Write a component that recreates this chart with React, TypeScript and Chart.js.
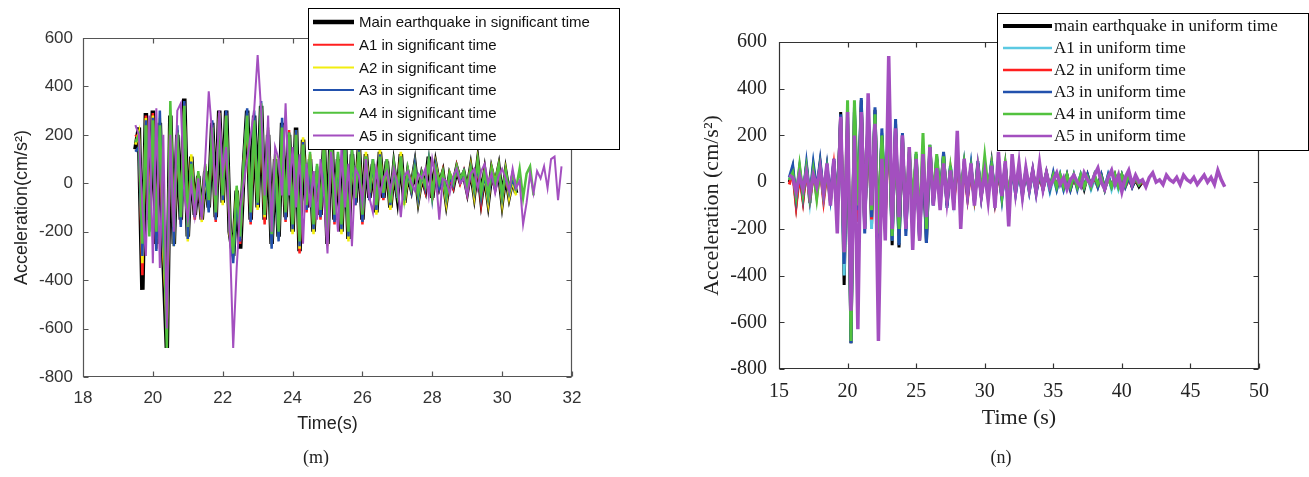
import React, { useEffect, useRef } from 'react';
import { Chart, registerables } from 'chart.js';
Chart.register(...registerables);

// ================= Panel (m): significant time =================
const M_T0 = 19.5;
const M_DT = 0.1;
const M_X_TICKS = { min: 18, max: 32, step: 2 };
const M_Y_TICKS = { min: -800, max: 600, step: 200 };
const M_LABELS = [
  'Main earthquake in significant time',
  'A1 in significant time',
  'A2 in significant time',
  'A3 in significant time',
  'A4 in significant time',
  'A5 in significant time',
];
const M_MAIN = [
  140, 230, -440, 290, -150, 300, -250, 250, -300, -680,
  280, -250, 200, -150, 350, -220, 110, -130, 30, -150,
  50, -100, 250, -140, 300, -80, 300, -200, -300, -30,
  -270, 60, 300, -150, 280, -100, 320, -150, 200, -250,
  100, -220, 250, -140, 200, -200, 230, -280, 180, -100,
  100, -200, 50, -130, 150, -250, 250, -150, 100, -200,
  180, -230, 120, -80, 150, -150, 120, -60, 80, -120,
  130, -60, 90, -100, 60, -50, 120, -80, 40, -20,
  70, -60, 30, -20, 110, -60, 70, -10, 40, -70,
  30, -10, 60, 10, 40, -30, 60, -40, 80, -60,
  40, -70, 50, -10, 60, -70, 40, -50, 20, -40,
];
const M_A1 = [
  200, 180, -380, 280, -120, 290, -270, 230, -260, -600,
  250, -230, 220, -170, 330, -200, 100, -150, 40, -130,
  70, -90, 230, -160, 280, -60, 290, -180, -280, -40,
  -250, 80, 280, -170, 260, -80, 300, -170, 220, -230,
  80, -200, 230, -160, 220, -180, 210, -290, 170, -120,
  120, -180, 40, -150, 160, -230, 230, -170, 110, -180,
  160, -210, 130, -90, 140, -170, 110, -70, 90, -100,
  120, -70, 100, -90, 70, -60, 110, -70, 50, -30,
  60, -50, 40, -30, 100, -70, 60, -20, 50, -60,
  20, -20, 70, 0, 50, -40, 50, -30, 70, -80,
  50, -60, 40, -20, 50, -60, 30, -40, 30, -30,
];
const M_A2 = [
  160, 210, -330, 270, -170, 280, -230, 270, -280, -560,
  260, -260, 190, -130, 320, -240, 120, -110, 20, -160,
  40, -110, 240, -130, 290, -90, 280, -210, -310, -20,
  -230, 50, 290, -140, 270, -110, 310, -140, 190, -260,
  110, -230, 240, -130, 190, -210, 220, -270, 190, -90,
  110, -210, 60, -120, 140, -260, 240, -140, 90, -210,
  170, -240, 110, -70, 160, -140, 130, -50, 70, -130,
  140, -50, 80, -110, 50, -40, 130, -90, 30, -10,
  80, -70, 20, -10, 100, -50, 80, 0, 30, -80,
  40, 0, 50, 20, 30, -20, 70, -50, 90, -50,
  30, -80, 60, 0, 70, -80, 50, -60, 10, -50,
];
const M_A3 = [
  130, 150, -300, 260, -200, 270, -280, 300, -240, -500,
  240, -260, 240, -180, 340, -230, 90, -140, 20, -140,
  60, -120, 260, -150, 280, -70, 300, -190, -330, -60,
  -240, 70, 310, -160, 300, -90, 340, -130, 210, -270,
  90, -240, 270, -150, 210, -190, 220, -260, 170, -110,
  90, -190, 70, -140, 140, -240, 260, -160, 120, -190,
  190, -220, 140, -90, 140, -160, 110, -70, 100, -110,
  120, -60, 100, -90, 70, -60, 110, -70, 50, -30,
  80, -60, 40, -20, 100, -60, 70, -20, 40, -60,
  30, -10, 60, 10, 50, -30, 60, -30, 80, -60,
  40, -60, 40, -20, 60, -60, 40, -40, 20, -30,
];
const M_A4 = [
  170, 200, -250, 240, -220, 260, -200, 240, -150, -680,
  340, -180, 210, -140, 320, -180, 80, -120, 50, -120,
  80, -70, 230, -120, 270, -50, 280, -170, -290, -10,
  -220, 90, 280, -120, 260, -80, 330, -130, 230, -210,
  120, -200, 230, -120, 210, -170, 200, -240, 160, -90,
  130, -170, 80, -110, 170, -220, 220, -130, 130, -170,
  170, -200, 140, -60, 130, -130, 110, -40, 100, -90,
  110, -40, 100, -80, 80, -40, 110, -60, 60, -20,
  60, -40, 40, -10, 90, -50, 60, 0, 50, -50,
  40, 0, 70, 20, 50, -20, 60, -20, 90, -40,
  50, -50, 60, 0, 70, -50, 50, -30, 40, -20,
  60, -60, 40, 70, -50,
];
const M_A5 = [
  240, 200, -100, -300, 280, -330, 310, -350, 200, -600,
  200, -200, 300, 330, -50, -150, 0, -130, 20, -150,
  100, 380, 200, -50, 300, 50, 150, -200, -680, -350,
  -100, 0, 100, 200, 300, 530, 300, -50, 280, -200,
  150, 100, -50, 330, -50, 150, -100, 120, -250, 80,
  -100, 50, -150, 100, -50, -290, 130, 0, -200, 150,
  -100, 80, -260, 60, 30, -80, 100, -60, -120, 60,
  -50, 20, 50, -30, 60, 0, -140, 30, 50, 0,
  -30, 40, 20, 60, -50, 100, 30, -150, 20, 10,
  -40, 30, 60, 0, 20, -50, 40, 60, -20, 50,
  80, 0, 40, -40, 30, 60, 20, -30, 60, -20,
  10, -170, -80, 40, -40, 50, 20, 70, -20, 100,
  110, -70, 70,
];

// ================= Panel (n): uniform time =================
const N_T0 = 15.75;
const N_DT = 0.25;
const N_X_TICKS = { min: 15, max: 50, step: 5 };
const N_Y_TICKS = { min: -800, max: 600, step: 200 };
const N_LABELS = [
  'main earthquake in uniform time',
  'A1 in uniform time',
  'A2 in uniform time',
  'A3 in uniform time',
  'A4 in uniform time',
  'A5 in uniform time',
];
const N_MAIN = [
  0, 60, -90, 50, -70, 70, -90, 60, -40, 80, -60, 60, -80, 90, -120, 300,
  -440, 250, -690, 300, -150, 350, -200, 300, -180, 310, -270, 200,
  -150, 300, -270, 250, -280, 200, -200, 120, -150, 110, -250, 100,
  -260, 150, -90, 100, -60, 120, -100, 60, -80, 90, -60, 70,
  -50, 60, -80, 80, -60, 50, -40, 80, -70, 50, -60, 70,
  -90, 60, -40, 50, -50, 40, -30, 50, -40, 30, -20, 40,
  -30, 30, -20, 20, -20, 30, -30, 20, -20, 20, -30, 30,
  -20, 20, -10, 30, -30, 20, -20, 30, -20, 30, -10, 20,
  -20, 10, -20, 0,
];
const N_A1 = [
  10, 50, -80, 40, -60, 60, -80, 70, -50, 70, -70, 50, -70, 80, -100, 280,
  -400, 260, -600, 280, -130, 330, -190, 280, -200, 290, -250, 210,
  -140, 280, -250, 230, -260, 180, -210, 110, -140, 120, -230, 110,
  -240, 140, -100, 90, -70, 110, -90, 70, -70, 80, -70, 60,
  -60, 70, -70, 70, -50, 60, -50, 70, -60, 40, -70, 60,
  -80, 50, -50, 40, -40, 50, -40, 40, -30, 40, -30, 30,
  -40, 20, -30, 30, -30, 20, -20, 30, -10, 30, -20, 20,
  -30, 10, -20, 20, -20, 30, -30, 20, -30, 20, -20, 30,
  -10, 20, -10, 10,
];
const N_A2 = [
  -10, 40, -100, 30, -80, 50, -70, 40, -60, 60, -80, 40, -60, 70, -90, 270,
  -300, 240, -560, 260, -170, 320, -180, 260, -160, 280, -230, 190,
  -170, 270, -200, 210, -230, 160, -190, 100, -130, 100, -200, 90,
  -220, 130, -80, 80, -80, 100, -80, 50, -90, 70, -50, 50,
  -70, 50, -70, 60, -50, 40, -50, 60, -80, 40, -50, 60,
  -70, 50, -30, 40, -40, 30, -20, 40, -30, 20, -30, 30,
  -20, 20, -10, 20, -10, 20, -20, 10, -20, 10, -20, 20,
  -10, 20, -20, 20, -20, 10, -10, 20, -10, 20, -20, 10,
  -10, 10, -10, 0,
];
const N_A3 = [
  20, 70, -70, 60, -60, 80, -60, 80, -30, 90, -50, 70, -60, 100, -100, 290,
  -350, 280, -690, 320, -120, 360, -220, 310, -150, 320, -260, 230,
  -130, 310, -250, 270, -270, 210, -230, 130, -160, 120, -240, 120,
  -260, 160, -100, 110, -70, 130, -110, 70, -70, 100, -50, 80,
  -60, 70, -90, 90, -60, 60, -50, 90, -70, 60, -70, 80,
  -100, 60, -50, 50, -60, 50, -40, 50, -50, 40, -30, 40,
  -30, 40, -30, 30, -30, 30, -30, 30, -30, 30, -20, 30,
  -20, 30, -20, 30, -30, 30, -20, 20, -20, 30, -20, 20,
  -20, 20, -10, 10,
];
const N_A4 = [
  10, 40, -60, 70, -50, 60, -60, 50, -70, 60, -60, 50, -90, 80, -100, 250,
  -300, 350, -680, 350, -100, 300, -170, 280, -120, 290, -220, 200,
  -100, 290, -230, 200, -200, 190, -170, 150, -100, 130, -190, 210,
  -200, 160, -70, 120, -50, 110, -80, 60, -60, 90, -40, 80,
  -40, 60, -60, 70, -40, 110, -30, 70, -50, 60, -60, 70,
  -60, 50, -30, 40, -40, 50, -30, 40, -30, 40, -20, 40,
  -20, 30, -20, 30, -20, 30, -20, 30, -20, 30, -20, 20,
  -20, 30, -10, 20, -30, 20, -20, 30, -20, 30, -10, 30,
  -10, 20, -10, 10,
];
const N_A5 = [
  30, 20, -40, 30, -30, 40, -50, 30, -20, 60, -50, 80, -100, 100, -220, 280,
  -300, 300, -550, 200, -630, 300, -200, 380, -100, 250, -680, 100,
  -250, 540, -200, 230, -150, 200, -200, 150, -290, 100, -250, 120,
  -150, 150, -100, 60, -120, 80, -80, 50, -120, 220, -200, 100,
  -50, 80, -100, 60, -60, 40, -80, 70, -110, 130, -60, 90,
  -190, 120, -40, 80, -60, 60, -30, 50, -40, 80, -30, 40,
  -20, 10, 40, -10, 20, -30, 10, 30, 0, -20, 40, 10,
  -10, 30, 60, 0, -30, 20, 50, -10, 30, -40, 20, 50,
  -10, 30, 0, 10, -20, 20, 40, 0, 10, -10, 30, 10,
  0, 20, -10, 30, 10, 0, 20, -10, 10, 30, 0, 20,
  -10, 50, 10, -20,
];

// ================= Chart construction =================
type SeriesStyle = { color: string; width: number; legendWidth: number };

const toPoints = (t0: number, dt: number, vals: number[]) =>
  vals.map((v, i) => ({ x: +(t0 + i * dt).toFixed(3), y: v }));

function makePlugin(cfg: any) {
  return {
    id: 'frameLegend',
    afterDatasetsDraw(chart: any) {
      const { ctx, chartArea: ca } = chart;
      const xs = chart.scales.x;
      const ys = chart.scales.y;
      const L = Math.round(ca.left) + 0.5;
      const R = Math.round(ca.right) - 0.5;
      const T = Math.round(ca.top) + 0.5;
      const B = Math.round(ca.bottom) - 0.5;
      ctx.save();
      ctx.strokeStyle = cfg.axisColor;
      ctx.lineWidth = 1.2;
      ctx.beginPath();
      ctx.rect(L, T, R - L, B - T);
      xs.ticks.forEach((t: any) => {
        const p = Math.round(xs.getPixelForValue(t.value)) + 0.5;
        ctx.moveTo(p, B); ctx.lineTo(p, B - cfg.tickLen);
        ctx.moveTo(p, T); ctx.lineTo(p, T + cfg.tickLen);
      });
      ys.ticks.forEach((t: any) => {
        const p = Math.round(ys.getPixelForValue(t.value)) + 0.5;
        ctx.moveTo(L, p); ctx.lineTo(L + cfg.tickLen, p);
        ctx.moveTo(R, p); ctx.lineTo(R - cfg.tickLen, p);
      });
      ctx.stroke();
      ctx.restore();
    },
    afterDraw(chart: any) {
      const { ctx } = chart;
      const lg = cfg.legend;
      ctx.save();
      ctx.fillStyle = '#fff';
      ctx.fillRect(lg.x, lg.y, lg.w, lg.h);
      ctx.strokeStyle = '#000';
      ctx.lineWidth = 1;
      ctx.strokeRect(lg.x + 0.5, lg.y + 0.5, lg.w - 1, lg.h - 1);
      ctx.font = lg.font;
      ctx.textBaseline = 'middle';
      ctx.textAlign = 'left';
      chart.data.datasets.forEach((ds: any, i: number) => {
        const y = lg.y + lg.row0 + i * lg.rowH;
        ctx.strokeStyle = ds.borderColor;
        ctx.lineWidth = cfg.styles[i].legendWidth;
        ctx.beginPath();
        ctx.moveTo(lg.x + lg.l0, y);
        ctx.lineTo(lg.x + lg.l1, y);
        ctx.stroke();
        ctx.fillStyle = '#111';
        ctx.fillText(ds.label, lg.x + lg.tx, y + 1);
      });
      ctx.restore();
    },
  };
}

function buildConfig(p: any) {
  const datasets = p.series.map((vals: number[], i: number) => ({
    label: p.labels[i],
    data: toPoints(p.t0, p.dt, vals),
    borderColor: p.styles[i].color,
    backgroundColor: p.styles[i].color,
    borderWidth: p.styles[i].width,
    pointRadius: 0,
    tension: 0,
    fill: false,
    order: p.series.length - i,
  }));
  return {
    type: 'line',
    data: { datasets },
    plugins: [makePlugin(p)],
    options: {
      responsive: false,
      animation: false,
      events: [],
      layout: { padding: p.padding },
      plugins: { legend: { display: false }, tooltip: { enabled: false } },
      scales: {
        x: {
          type: 'linear',
          min: p.xTicks.min,
          max: p.xTicks.max,
          border: { display: false },
          grid: { display: false, drawTicks: false },
          ticks: {
            stepSize: p.xTicks.step,
            padding: p.xTickPad,
            color: p.tickColor,
            font: p.tickFont,
            maxRotation: 0,
            autoSkip: false,
          },
          title: {
            display: true,
            text: p.xTitle,
            color: p.titleColor,
            font: p.titleFont,
            padding: { top: 0, bottom: p.xTitlePad },
          },
          afterFit: (s: any) => { s.height = p.xScaleH; },
        },
        y: {
          type: 'linear',
          min: p.yTicks.min,
          max: p.yTicks.max,
          border: { display: false },
          grid: { display: false, drawTicks: false },
          ticks: {
            stepSize: p.yTicks.step,
            padding: p.yTickPad,
            color: p.tickColor,
            font: p.tickFont,
            autoSkip: false,
          },
          title: {
            display: true,
            text: p.yTitle,
            color: p.titleColor,
            font: p.titleFont,
            padding: { top: p.yTitlePad, bottom: 0 },
          },
          afterFit: (s: any) => { s.width = p.yScaleW; },
        },
      },
    },
  };
}

const M_STYLES: SeriesStyle[] = [
  { color: '#000000', width: 4.5, legendWidth: 4.5 },
  { color: '#ff1f1f', width: 2.5, legendWidth: 2 },
  { color: '#f2ee10', width: 2.5, legendWidth: 2 },
  { color: '#2251ad', width: 2.5, legendWidth: 2 },
  { color: '#52c23e', width: 2.5, legendWidth: 2 },
  { color: '#a34fbf', width: 2, legendWidth: 2 },
];
const N_STYLES: SeriesStyle[] = [
  { color: '#000000', width: 3, legendWidth: 4 },
  { color: '#5cc9e2', width: 3, legendWidth: 2.5 },
  { color: '#ff1f1f', width: 3, legendWidth: 2.5 },
  { color: '#2251ad', width: 3, legendWidth: 2.5 },
  { color: '#52c23e', width: 3, legendWidth: 2.5 },
  { color: '#a34fbf', width: 3.5, legendWidth: 2.5 },
];

const PANEL_M = {
  t0: M_T0, dt: M_DT,
  series: [M_MAIN, M_A1, M_A2, M_A3, M_A4, M_A5],
  labels: M_LABELS,
  styles: M_STYLES,
  xTicks: M_X_TICKS, yTicks: M_Y_TICKS,
  xTitle: 'Time(s)',
  yTitle: 'Acceleration(cm/s²)',
  padding: { left: 0, top: 38, right: 83, bottom: 0 },
  yScaleW: 83, xScaleH: 100,
  xTickPad: 11, yTickPad: 10,
  xTitlePad: 42, yTitlePad: 11,
  tickColor: '#333', titleColor: '#222',
  tickFont: { family: "'Liberation Sans', Arial, sans-serif", size: 17 },
  titleFont: { family: "'Liberation Sans', Arial, sans-serif", size: 18 },
  axisColor: '#555', tickLen: 5,
  legend: {
    x: 308, y: 8, w: 312, h: 142, row0: 14, rowH: 22.7, l0: 5, l1: 46, tx: 51,
    font: "15px 'Liberation Sans', Arial, sans-serif",
  },
};

const PANEL_N = {
  t0: N_T0, dt: N_DT,
  series: [N_MAIN, N_A1, N_A2, N_A3, N_A4, N_A5],
  labels: N_LABELS,
  styles: N_STYLES,
  xTicks: N_X_TICKS, yTicks: N_Y_TICKS,
  xTitle: 'Time (s)',
  yTitle: 'Acceleration (cm/s²)',
  padding: { left: 0, top: 42, right: 50, bottom: 0 },
  yScaleW: 124, xScaleH: 108,
  xTickPad: 11, yTickPad: 12,
  xTitlePad: 46, yTitlePad: 44,
  tickColor: '#222', titleColor: '#222',
  tickFont: { family: "'Liberation Serif', 'Times New Roman', serif", size: 20 },
  titleFont: { family: "'Liberation Serif', 'Times New Roman', serif", size: 22 },
  axisColor: '#333', tickLen: 5,
  legend: {
    x: 342, y: 13, w: 312, h: 138, row0: 13, rowH: 22, l0: 6, l1: 55, tx: 57,
    font: "17px 'Liberation Serif', 'Times New Roman', serif",
  },
};

function Panel({ spec, left, width }: { spec: any; left: number; width: number }) {
  const ref = useRef<HTMLCanvasElement | null>(null);
  useEffect(() => {
    if (!ref.current) return;
    const chart = new Chart(ref.current, buildConfig(spec) as any);
    return () => chart.destroy();
  }, [spec]);
  return (
    <div style={{ position: 'absolute', left, top: 0, width, height: 477 }}>
      <canvas ref={ref} width={width} height={477} style={{ display: 'block', width, height: 477 }} />
    </div>
  );
}

export default function App() {
  useEffect(() => {
    document.body.style.margin = '0';
    document.body.style.background = '#fff';
  }, []);
  const cap: React.CSSProperties = {
    position: 'absolute',
    top: 446,
    fontFamily: "'Liberation Serif', 'Times New Roman', serif",
    fontSize: 18,
    color: '#222',
    lineHeight: '22px',
    transform: 'translateX(-50%)',
    whiteSpace: 'nowrap',
  };
  return (
    <div style={{ position: 'relative', width: 1309, height: 477, background: '#fff', overflow: 'hidden' }}>
      <Panel spec={PANEL_M} left={0} width={655} />
      <Panel spec={PANEL_N} left={655} width={654} />
      <div style={{ ...cap, left: 316 }}>(m)</div>
      <div style={{ ...cap, left: 1001 }}>(n)</div>
    </div>
  );
}
